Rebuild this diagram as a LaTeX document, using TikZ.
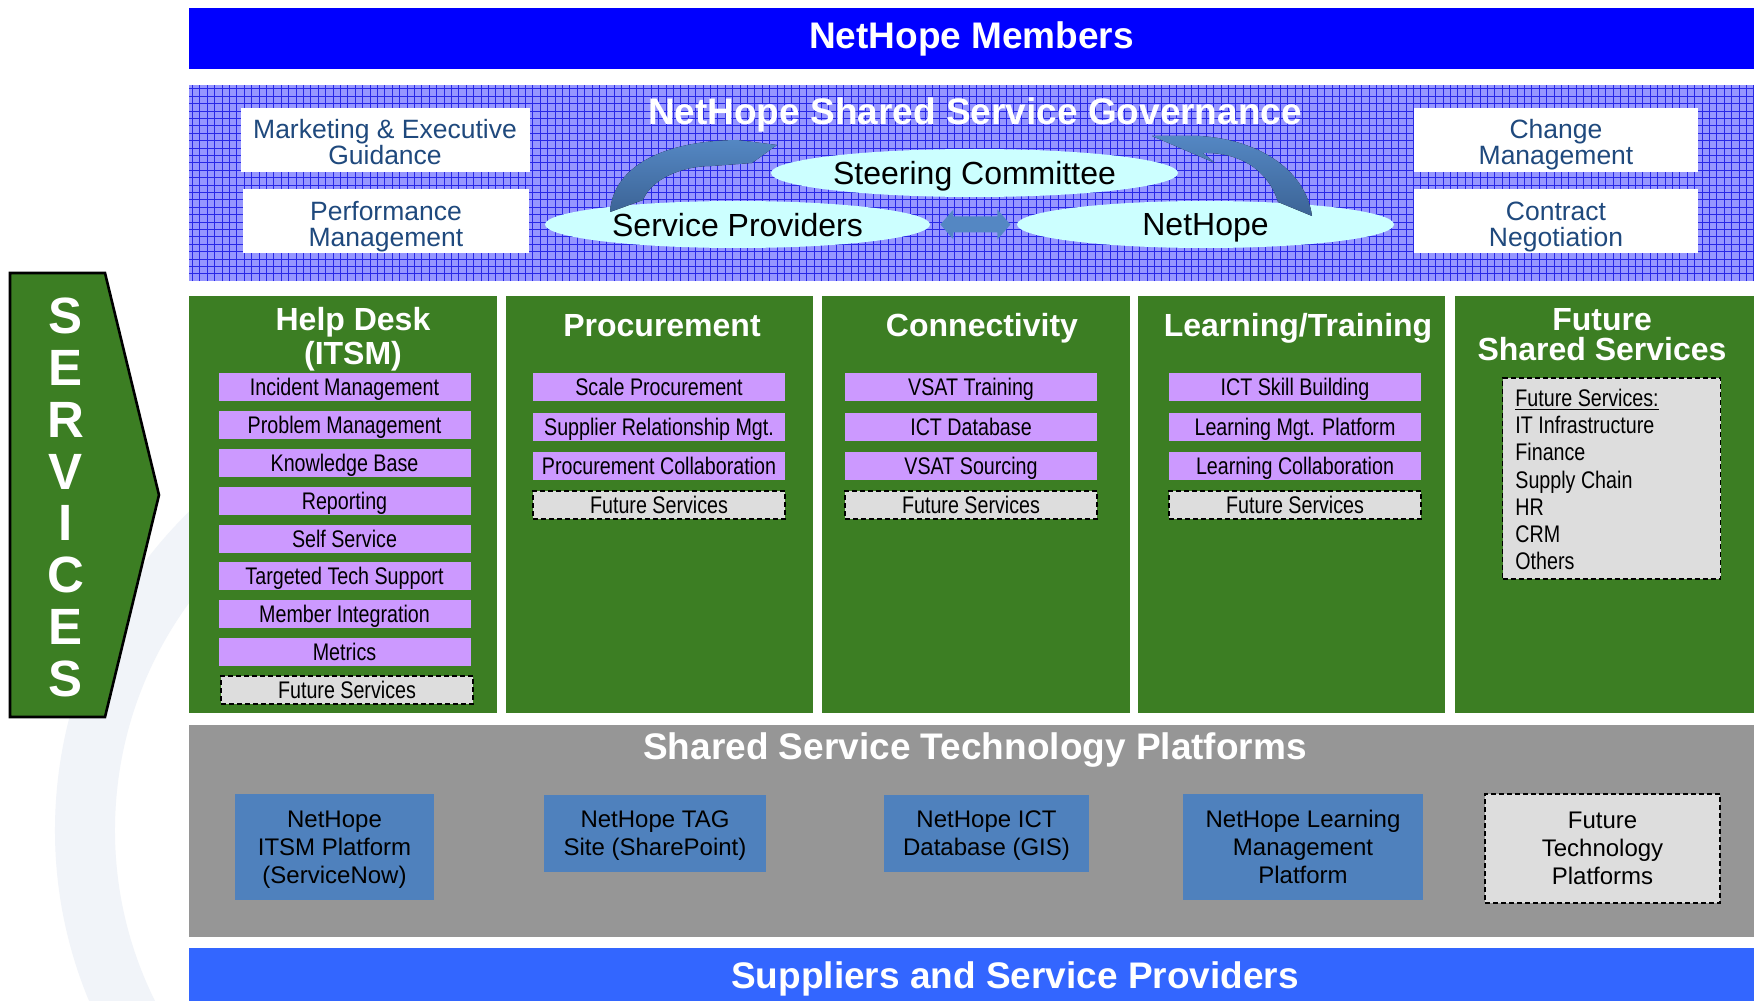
\documentclass[tikz,border=0pt]{standalone}
\usepackage{fontspec}
\setmainfont{Liberation Sans}
\newfontfamily\narrowfont[FakeStretch=0.82]{Liberation Sans}
\usetikzlibrary{shapes.geometric}
\definecolor{memberblue}{RGB}{0,0,255}
\definecolor{govfill}{RGB}{150,150,255}
\definecolor{govgrid}{RGB}{40,40,230}
\definecolor{boxtext}{RGB}{31,73,125}
\definecolor{ovalcyan}{RGB}{204,255,255}
\definecolor{arrowlight}{RGB}{84,135,195}
\definecolor{arrowdark}{RGB}{60,100,150}
\definecolor{colgreen}{RGB}{60,126,35}
\definecolor{itemlilac}{RGB}{204,153,255}
\definecolor{futuregray}{RGB}{221,221,221}
\definecolor{platgray}{RGB}{150,150,150}
\definecolor{platblue}{RGB}{79,129,189}
\definecolor{supplierblue}{RGB}{51,102,255}
\definecolor{watermark}{RGB}{241,244,249}
\begin{document}
\begin{tikzpicture}[x=0.5pt,y=-0.5pt,
    band/.style={inner sep=0pt,text=white,font=\fontsize{18.5}{20}\selectfont\bfseries},
    govbox/.style={fill=white,text=boxtext,align=center,inner sep=0pt,minimum height=32pt,
      text height=25pt,text depth=0pt,font=\fontsize{13.25}{13}\selectfont},
    oval/.style={ellipse,fill=ovalcyan,inner sep=0pt,text depth=0pt,font=\fontsize{16}{18}\selectfont},
    column/.style={fill=colgreen,inner sep=0pt,minimum height=208.5pt},
    coltitle/.style={text=white,align=center,inner sep=0pt,font=\fontsize{16}{17}\selectfont\bfseries},
    item/.style={fill=itemlilac,inner sep=0pt,minimum width=126pt,minimum height=14pt,text depth=0pt,
      font=\narrowfont\fontsize{12}{13}\selectfont},
    future/.style={item,fill=futuregray,draw=black,line width=0.75pt,dash pattern=on 2.5pt off 1.5pt},
    platform/.style={fill=platblue,align=center,inner sep=0pt,text depth=0pt,font=\fontsize{12}{14}\selectfont}]
  \useasboundingbox (0,0) rectangle (1754,1000);
  \fill[white] (0,0) rectangle (1754,1000);
  \draw[watermark,line width=30pt] (500,830) ++(95:415) arc[start angle=95,end angle=265,radius=415];

  \node[band,fill=memberblue,minimum width=782.5pt,minimum height=30.5pt] (members) at (971.5,38.5) {NetHope Members};

  \fill[govfill] (189,85) rectangle (1754,281);
  \draw[govgrid,line width=0.35pt,step=3.7pt] (189,281) grid (1754,85);
  \node[band,text depth=0pt] (gov) at (975,111) {NetHope Shared Service Governance};
  \node[govbox,minimum width=144.5pt] (mkt) at (385,140) {Marketing \& Executive\\Guidance};
  \node[govbox,minimum width=143pt] (perf) at (386,221) {Performance\\Management};
  \node[govbox,minimum width=142pt] (chg) at (1556,140) {Change\\Management};
  \node[govbox,minimum width=142pt] (ctr) at (1556,221) {Contract\\Negotiation};
  \node[oval,minimum width=203.5pt,minimum height=24pt] (steer) at (974.5,173) {Steering Committee};
  \node[oval,minimum width=192.5pt,minimum height=23.5pt] (sp) at (737.5,224.5) {Service Providers};
  \node[oval,minimum width=188.5pt,minimum height=23.5pt] (nh) at (1205.5,224.5) {NetHope};
  \fill[top color=arrowlight,bottom color=arrowdark] (610,212) .. controls (613,168) and (660,141) .. (737,140)
    -- (777,145) -- (752,163) -- (712,166) .. controls (680,166) and (651,180) .. (643,200) -- cycle;
  \fill[top color=arrowlight,bottom color=arrowdark] (1152,136) -- (1215,163) -- (1203,153)
    .. controls (1245,152) and (1270,175) .. (1278,202) -- (1312,216)
    .. controls (1306,172) and (1262,140) .. (1200,136) -- cycle;
  \fill[arrowlight] ([xshift=5pt]sp.east) -- ++(13,-15) -- ++(0,7) -- ++(44,0) -- ++(0,-7) -- ++(13,15)
    -- ++(-13,15) -- ++(0,-7) -- ++(-44,0) -- ++(0,7) -- cycle;

  \node[column,minimum width=154pt] (c1) at (343,504.5) {};
  \node[column,minimum width=153.5pt] (c2) at (659.5,504.5) {};
  \node[column,minimum width=154pt] (c3) at (976,504.5) {};
  \node[column,minimum width=153.5pt] (c4) at (1291.5,504.5) {};
  \node[column,minimum width=149.5pt] (c5) at (1604.5,504.5) {};
  \node[coltitle] (t1) at (353,339) {Help Desk\\(ITSM)};
  \node[coltitle] (t2) at (662,326) {Procurement};
  \node[coltitle] (t3) at (982,328.5) {Connectivity};
  \node[coltitle] (t4) at (1298,328.5) {Learning/Training};
  \node[coltitle,font=\fontsize{16}{15}\selectfont\bfseries] (t5) at (1602,335) {Future\\Shared Services};

  \node[item] (h1) at (344.5,387) {Incident Management};
  \node[item] (h2) at (344.5,425) {Problem Management};
  \node[item] (h3) at (344.5,463) {Knowledge Base};
  \node[item] (h4) at (344.5,501) {Reporting};
  \node[item] (h5) at (344.5,539) {Self Service};
  \node[item] (h6) at (344.5,576) {Targeted Tech Support};
  \node[item] (h7) at (344.5,614) {Member Integration};
  \node[item] (h8) at (344.5,652) {Metrics};
  \node[future] (h9) at (347,690) {Future Services};

  \node[item] (p1) at (659,387) {Scale Procurement};
  \node[item] (p2) at (659,427) {Supplier Relationship Mgt.};
  \node[item] (p3) at (659,466) {Procurement Collaboration};
  \node[future] (p4) at (659,505) {Future Services};

  \node[item] (n1) at (971,387) {VSAT Training};
  \node[item] (n2) at (971,427) {ICT Database};
  \node[item] (n3) at (971,466) {VSAT Sourcing};
  \node[future] (n4) at (971,505) {Future Services};

  \node[item] (l1) at (1295,387) {ICT Skill Building};
  \node[item] (l2) at (1295,427) {Learning Mgt. Platform};
  \node[item] (l3) at (1295,466) {Learning Collaboration};
  \node[future] (l4) at (1295,505) {Future Services};

  \node[future,minimum width=109pt,minimum height=100.5pt] (fl) at (1611.5,478.5) {};
  \node[anchor=west,align=left,inner sep=0pt,font=\narrowfont\fontsize{12}{13.6}\selectfont] (fn) at (1515,479.5)
    {\underline{Future Services:}\\IT Infrastructure\\Finance\\Supply Chain\\HR\\CRM\\Others};

  \node[fill=platgray,minimum width=782.5pt,minimum height=106pt,inner sep=0pt] (tech) at (971.5,831) {};
  \node[band,text depth=0pt] (techtitle) at (975,746) {Shared Service Technology Platforms};
  \node[platform,minimum width=99.5pt,minimum height=53pt] (pf1) at (334.5,847) {NetHope\\ITSM Platform\\(ServiceNow)};
  \node[platform,minimum width=111pt,minimum height=38.5pt] (pf2) at (655,833.5) {NetHope TAG\\Site (SharePoint)};
  \node[platform,minimum width=102.5pt,minimum height=38.5pt] (pf3) at (986.5,833.5) {NetHope ICT\\Database (GIS)};
  \node[platform,minimum width=120pt,minimum height=53pt] (pf4) at (1303,847) {NetHope Learning\\Management\\Platform};
  \node[platform,fill=futuregray,draw=black,line width=0.75pt,dash pattern=on 2.5pt off 1.5pt,
    minimum width=117.5pt,minimum height=54.5pt] (pf5) at (1602.5,848.5) {Future\\Technology\\Platforms};

  \node[band,fill=supplierblue,text depth=0pt,minimum width=826pt,minimum height=27.5pt] (sup) at (1015,975.5) {Suppliers and Service Providers};

  \draw[fill=colgreen,line width=1.3pt] (10,273) -- (105,273) -- (159,495) -- (105,717) -- (10,717) -- cycle;
  \node[text=white,align=center,inner sep=0pt,font=\fontsize{25.5}{25.9}\selectfont\bfseries] (svc) at (66,497.5)
    {S\\E\\R\\V\\I\\C\\E\\S};
\end{tikzpicture}
\end{document}
